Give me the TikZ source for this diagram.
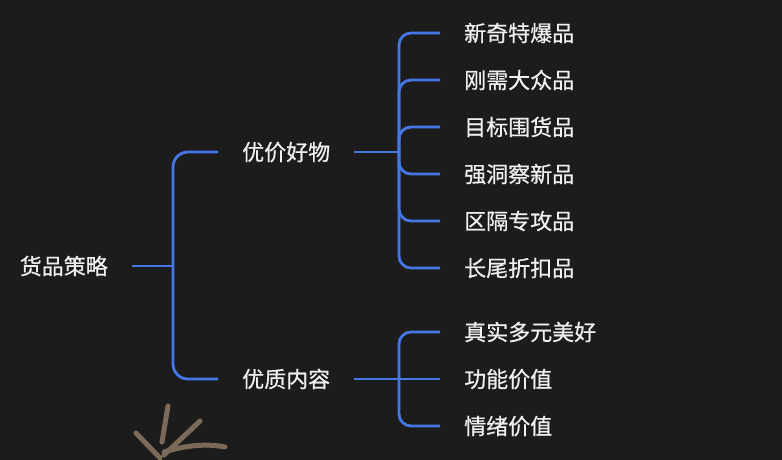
\documentclass[tikz,border=0pt]{standalone}
\usepackage{fontspec}
\setmainfont{Noto Sans CJK SC}[FakeBold=0.6]
\begin{document}
\begin{tikzpicture}[x=1pt,y=-1pt,
  lbl/.style={text=white!94!black, font=\fontsize{22}{26}\selectfont, inner xsep=24pt, inner ysep=0pt, text height=18.3pt, text depth=1.5pt},
  br/.style={draw=brblue, line width=2.8pt},
  mk/.style={draw=marktan, line width=5pt, line cap=round}]
\definecolor{bgc}{HTML}{1C1C1C}
\definecolor{brblue}{HTML}{4577E6}
\definecolor{marktan}{HTML}{7A6A57}
\path[fill=bgc] (0,0) rectangle (782,460);
\useasboundingbox (0,0) rectangle (782,460);
% nodes
\node[lbl, anchor=east] (root) at (132,266) {货品策略};
\node[lbl, anchor=west] (a) at (218,152) {优价好物};
\node[lbl, anchor=west] (b) at (218,379) {优质内容};
\node[lbl, anchor=west] (l1) at (440,33) {新奇特爆品};
\node[lbl, anchor=west] (l2) at (440,80) {刚需大众品};
\node[lbl, anchor=west] (l3) at (440,127) {目标围货品};
\node[lbl, anchor=west] (l4) at (440,174) {强洞察新品};
\node[lbl, anchor=west] (l5) at (440,221) {区隔专攻品};
\node[lbl, anchor=west] (l6) at (440,268) {长尾折扣品};
\node[lbl, anchor=west] (c1) at (440,332) {真实多元美好};
\node[lbl, anchor=west] (c2) at (440,379) {功能价值};
\node[lbl, anchor=west] (c3) at (440,426) {情绪价值};
\coordinate (j1) at (173,266);
\coordinate (s2) at (399,0);
% bracket 1
\draw[br] (root.east) -- (j1);
\draw[br, rounded corners=15pt] (a.west) -| (j1) |- (b.west);
% bracket 2
\draw[br] (a.east) -- (a.east -| s2);
\foreach \n in {l1,l2,l3,l4,l5,l6}
  \draw[br, rounded corners=12pt] (a.east -| s2) |- (\n.west);
% bracket 3
\draw[br] (b.east) -- (c2.west);
\draw[br, rounded corners=12pt] (b.east -| s2) |- (c1.west);
\draw[br, rounded corners=12pt] (b.east -| s2) |- (c3.west);
% tan mark
\draw[mk] (168,406) -- (162,442);
\draw[mk] (136,433) -- (160,458);
\draw[mk] (200,421) -- (164,455);
\draw[mk] (164,452) .. controls (190,444) and (210,444) .. (225,447);
\end{tikzpicture}
\end{document}
